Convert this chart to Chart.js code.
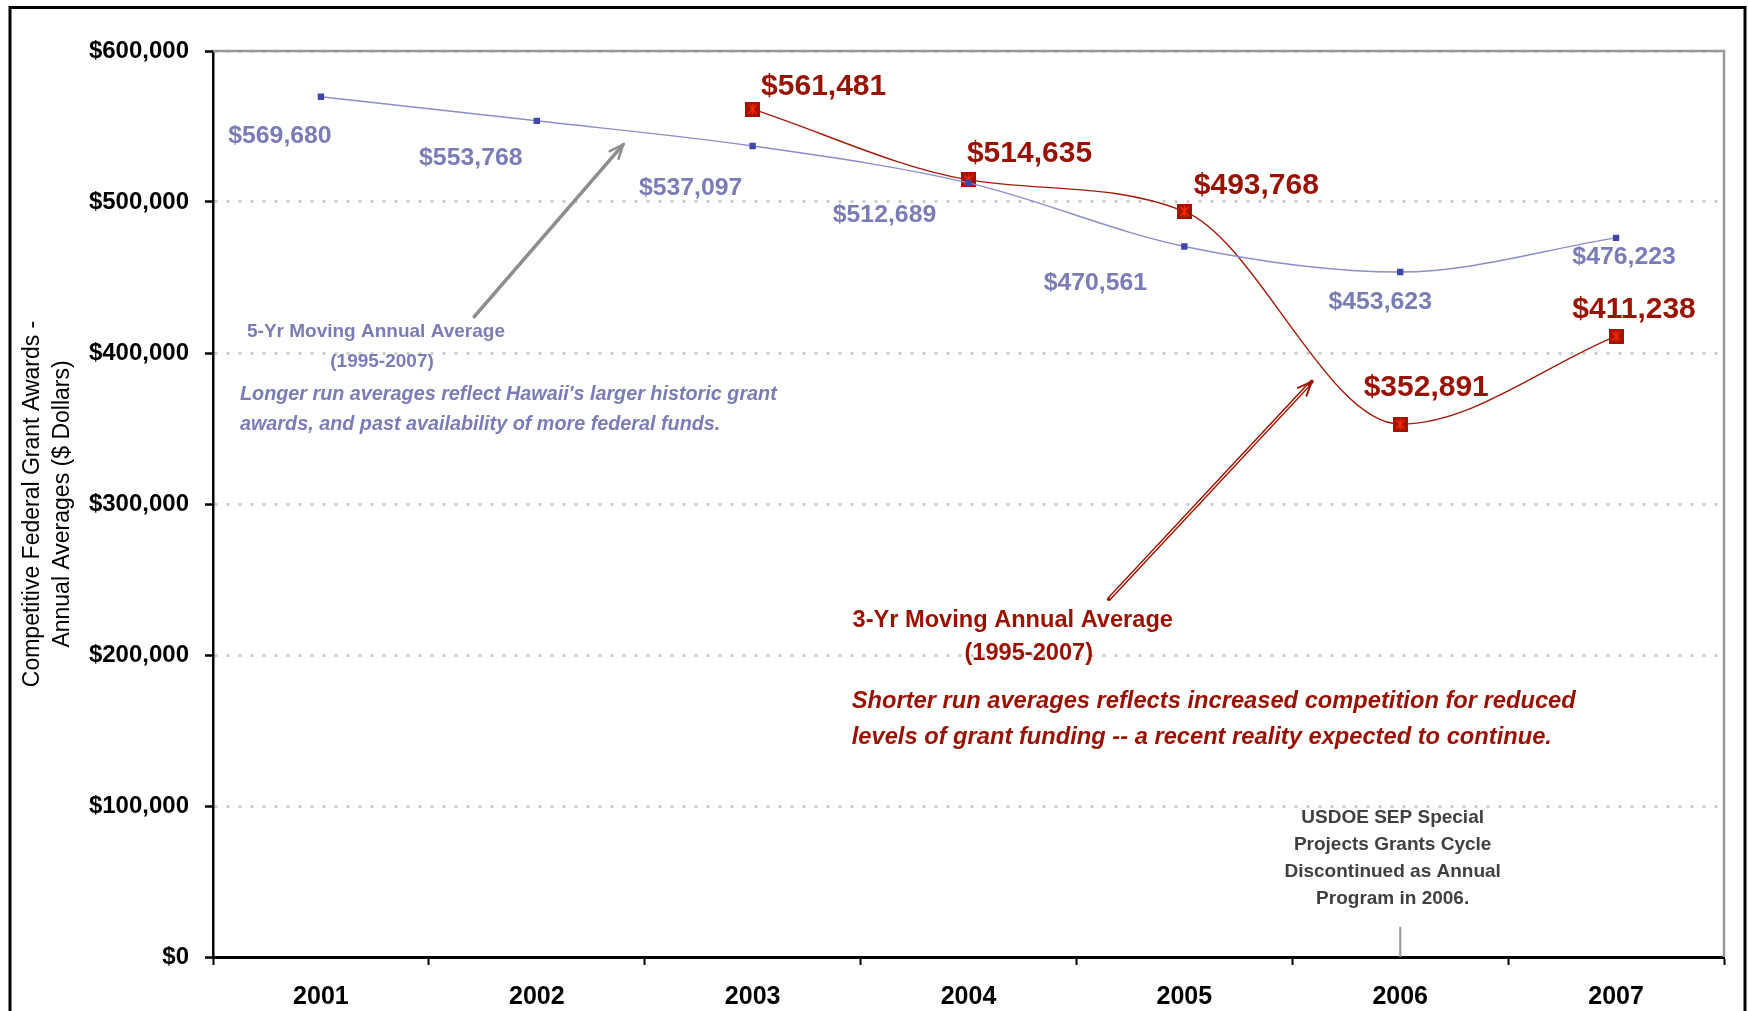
<!DOCTYPE html>
<html>
<head>
<meta charset="utf-8">
<script src="https://cdn.jsdelivr.net/npm/chart.js@4.4.1/dist/chart.umd.min.js"></script>
<style>
  html, body { margin: 0; padding: 0; background: #fff; }
  #wrap { width: 1748px; height: 1011px; position: relative; }
</style>
</head>
<body>
<div id="wrap"><canvas id="grantChart"></canvas></div>
<script>
// data
var years = ['2001', '2002', '2003', '2004', '2005', '2006', '2007'];
var fiveYearAvg = [569680, 553768, 537097, 512689, 470561, 453623, 476223];
var threeYearAvg = [null, null, 561481, 514635, 493768, 352891, 411238];
var yTickValues = [0, 100000, 200000, 300000, 400000, 500000, 600000];

var FONT = '"Liberation Sans", Arial, sans-serif';
var BLUE_TEXT = '#7A7DB5';
var RED_TEXT = '#991100';

// label offsets (pixels) from each point
var fiveLabelOffsets = [[-41, 39], [-66, 37], [-62, 42], [-84, 32], [-89, 37], [-20, 30], [8, 19]];
var threeLabelOffsets = [null, null, [71, -22], [61, -26], [72, -26], [26, -36], [18, -26]];

function fmtMoney(v) {
    return '$' + String(v).replace(/\B(?=(\d{3})+(?!\d))/g, ',');
}

// dark red square with a red star, like the Excel marker
function makeStarMarker() {
    var c = document.createElement('canvas');
    c.width = 15; c.height = 15;
    var g = c.getContext('2d');
    g.fillStyle = '#A01400';
    g.fillRect(0, 0, 15, 15);
    g.strokeStyle = '#FF2A00';
    g.lineWidth = 1.3;
    g.beginPath();
    g.moveTo(7.5, 2); g.lineTo(7.5, 13);
    g.moveTo(3.5, 3); g.lineTo(11.5, 12);
    g.moveTo(11.5, 3); g.lineTo(3.5, 12);
    g.stroke();
    return c;
}

function arrow(ctx, x1, y1, x2, y2, color, width, hollow) {
    var ang = Math.atan2(y2 - y1, x2 - x1);
    var head = 15;
    ctx.save();
    ctx.lineCap = 'round';
    ctx.strokeStyle = color;
    ctx.lineWidth = width;
    ctx.beginPath();
    ctx.moveTo(x1, y1); ctx.lineTo(x2, y2);
    ctx.stroke();
    if (hollow) {
        ctx.strokeStyle = '#fff';
        ctx.lineWidth = 1.2;
        ctx.beginPath();
        ctx.moveTo(x1 + Math.cos(ang) * 2, y1 + Math.sin(ang) * 2);
        ctx.lineTo(x2 - Math.cos(ang) * 6, y2 - Math.sin(ang) * 6);
        ctx.stroke();
        ctx.strokeStyle = color;
    }
    ctx.lineWidth = hollow ? 2 : width - 1;
    ctx.beginPath();
    ctx.moveTo(x2 - head * Math.cos(ang - 0.4), y2 - head * Math.sin(ang - 0.4));
    ctx.lineTo(x2, y2);
    ctx.lineTo(x2 - head * Math.cos(ang + 0.4), y2 - head * Math.sin(ang + 0.4));
    ctx.stroke();
    ctx.restore();
}

var decorPlugin = {
    id: 'decor',
    afterDatasetsDraw: function(chart) {
        var ctx = chart.ctx;
        var sx = chart.scales.x, sy = chart.scales.y;
        var area = chart.chartArea;
        function px(i, v) { return [sx.getPixelForValue(i), sy.getPixelForValue(v)]; }

        ctx.save();
        // plot frame, top and right
        ctx.strokeStyle = '#999';
        ctx.lineWidth = 2.5;
        ctx.beginPath();
        ctx.moveTo(area.left, area.top);
        ctx.lineTo(area.right, area.top);
        ctx.lineTo(area.right, area.bottom);
        ctx.stroke();

        // outer border
        ctx.strokeStyle = '#000';
        ctx.lineWidth = 3;
        ctx.strokeRect(10, 7.5, 1735, 1100);

        // value labels
        ctx.textAlign = 'center';
        ctx.textBaseline = 'middle';
        var m5 = chart.getDatasetMeta(0).data;
        ctx.font = 'bold 24.8px ' + FONT;
        ctx.fillStyle = BLUE_TEXT;
        fiveYearAvg.forEach(function(v, i) {
            if (v === null) return;
            var o = fiveLabelOffsets[i];
            ctx.fillText(fmtMoney(v), m5[i].x + o[0], m5[i].y + o[1]);
        });
        var m3 = chart.getDatasetMeta(1).data;
        ctx.font = 'bold 30px ' + FONT;
        ctx.fillStyle = RED_TEXT;
        threeYearAvg.forEach(function(v, i) {
            if (v === null) return;
            var o = threeLabelOffsets[i];
            ctx.fillText(fmtMoney(v), m3[i].x + o[0], m3[i].y + o[1]);
        });

        // arrows
        var a = px(0.71, 424000), b = px(1.40, 538000);
        arrow(ctx, a[0], a[1], b[0], b[1], '#8E8E8E', 3.5, false);
        a = px(3.65, 237000); b = px(4.59, 381000);
        arrow(ctx, a[0], a[1], b[0], b[1], '#A01400', 4, true);

        // 5-yr note
        ctx.fillStyle = BLUE_TEXT;
        ctx.font = 'bold 19px ' + FONT;
        var p = px(0.255, 414200);
        ctx.fillText('5-Yr Moving Annual Average', p[0], p[1]);
        p = px(0.283, 394300);
        ctx.fillText('(1995-2007)', p[0], p[1]);
        ctx.textAlign = 'left';
        ctx.font = 'italic bold 19.8px ' + FONT;
        p = px(-0.375, 372400);
        ctx.fillText("Longer run averages reflect Hawaii's larger historic grant", p[0], p[1]);
        p = px(-0.375, 352600);
        ctx.fillText('awards, and past availability of more federal funds.', p[0], p[1]);

        // 3-yr note
        ctx.fillStyle = RED_TEXT;
        ctx.textAlign = 'center';
        ctx.font = 'bold 23.6px ' + FONT;
        p = px(3.205, 222700);
        ctx.fillText('3-Yr Moving Annual Average', p[0], p[1]);
        p = px(3.279, 200800);
        ctx.fillText('(1995-2007)', p[0], p[1]);
        ctx.textAlign = 'left';
        ctx.font = 'italic bold 23.7px ' + FONT;
        p = px(2.459, 169000);
        ctx.fillText('Shorter run averages reflects increased competition for reduced', p[0], p[1]);
        p = px(2.459, 145100);
        ctx.fillText('levels of grant funding -- a recent reality expected to continue.', p[0], p[1]);

        // program note at 2006
        ctx.fillStyle = '#404040';
        ctx.textAlign = 'center';
        ctx.font = 'bold 19px ' + FONT;
        var note = ['USDOE SEP Special', 'Projects Grants Cycle', 'Discontinued as Annual', 'Program in 2006.'];
        var noteY = [92100, 74200, 56300, 38800];
        note.forEach(function(t, k) {
            var q = px(4.965, noteY[k]);
            ctx.fillText(t, q[0], q[1]);
        });
        var l1 = px(5, 20000), l2 = px(5, 0);
        ctx.strokeStyle = '#999';
        ctx.lineWidth = 2;
        ctx.beginPath();
        ctx.moveTo(l1[0], l1[1]); ctx.lineTo(l2[0], l2[1]);
        ctx.stroke();
        ctx.restore();
    }
};

Chart.defaults.font.family = FONT;

var ctx = document.getElementById('grantChart').getContext('2d');
var grantChart = new Chart(ctx, {
    type: 'line',
    data: {
        labels: years,
        datasets: [{
            label: '5-Yr Moving Annual Average',
            data: fiveYearAvg,
            borderColor: '#8C8ECA',
            borderWidth: 1.4,
            cubicInterpolationMode: 'monotone',
            pointStyle: 'rect',
            pointRadius: 4.5,
            pointBackgroundColor: '#3F46A6',
            pointBorderWidth: 0
        }, {
            label: '3-Yr Moving Annual Average',
            data: threeYearAvg,
            borderColor: '#A31A0A',
            borderWidth: 1.4,
            cubicInterpolationMode: 'monotone',
            pointStyle: makeStarMarker(),
            pointRadius: 8,
            spanGaps: false
        }]
    },
    options: {
        responsive: true,
        maintainAspectRatio: false,
        animation: false,
        layout: { padding: { top: 51, right: 24, left: 0, bottom: 0 } },
        plugins: {
            legend: { display: false },
            tooltip: { enabled: false }
        },
        scales: {
            x: {
                offset: true,
                grid: { display: true, drawOnChartArea: false, offset: true, tickLength: 8, tickWidth: 2, tickColor: '#000' },
                border: { display: true, color: '#000', width: 3 },
                ticks: { color: '#000', font: { size: 25, weight: 'bold' }, padding: 17 },
                afterFit: function(s) { s.height = 54; }
            },
            y: {
                min: 0,
                max: 600000,
                afterBuildTicks: function(s) {
                    s.ticks = yTickValues.map(function(v) { return { value: v }; });
                },
                grid: { color: '#CDCDCD', lineWidth: 3, tickLength: 8, tickWidth: 2.5, tickColor: '#000' },
                border: { display: true, color: '#000', width: 2.5, dash: [3, 9] },
                ticks: {
                    color: '#000',
                    font: { size: 24, weight: 'bold' },
                    padding: 16,
                    callback: function(v) { return fmtMoney(v); }
                },
                title: {
                    display: true,
                    text: ['Competitive Federal Grant Awards -', 'Annual Averages ($ Dollars)'],
                    color: '#000',
                    font: { size: 23, weight: 'normal', lineHeight: 1.3 },
                    padding: { top: 18, bottom: 0 }
                },
                afterFit: function(s) { s.width = 213; }
            }
        }
    },
    plugins: [decorPlugin]
});
</script>
</body>
</html>
